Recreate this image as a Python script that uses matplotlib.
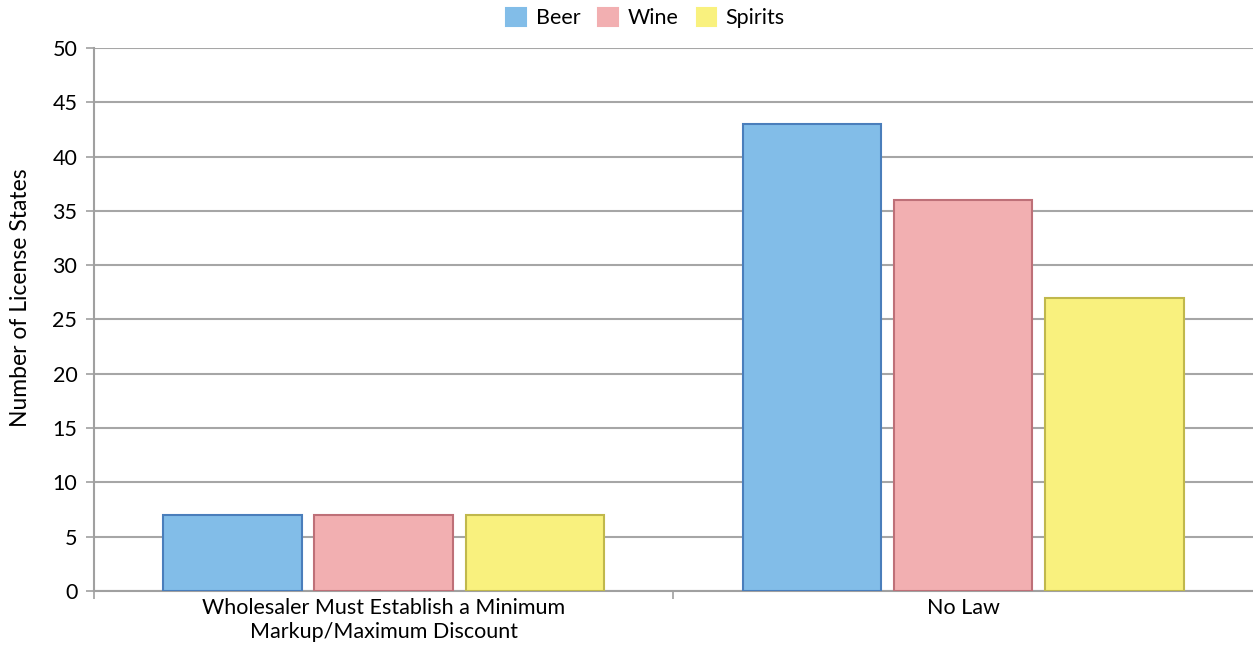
import matplotlib.pyplot as plt
import numpy as np

categories = ["Wholesaler Must Establish a Minimum\nMarkup/Maximum Discount", "No Law"]
series = ["Beer", "Wine", "Spirits"]
beer = [7, 43]
wine = [7, 36]
spirits = [7, 27]

fills = ["#82bde8", "#f2afb1", "#f9f17e"]
edges = ["#4a7ebb", "#be7078", "#c0b84c"]

plt.rcParams['font.family'] = ['Lato', 'DejaVu Sans']

fig = plt.figure(figsize=(12.53, 6.47), dpi=100)
ax = fig.add_axes([0.075, 0.0866, 0.925, 0.8392])

x = np.arange(len(categories))
width = 0.239
step = 0.261
for i, (vals, name) in enumerate(zip([beer, wine, spirits], series)):
    ax.bar(x + (i - 1) * step, vals, width, color=fills[i], edgecolor=edges[i],
           linewidth=1.5, label=name, zorder=3)

ax.set_ylim(0, 50)
ax.set_yticks(range(0, 51, 5))
ax.set_xticks([-0.5, 0.5])
ax.set_xticklabels([])
ax.set_xticks(x, minor=True)
ax.set_xticklabels(categories, minor=True, fontsize=15.5, linespacing=1.25)
ax.set_xlim(-0.5, 1.5)
ax.tick_params(axis='x', which='minor', length=0, pad=5)
ax.tick_params(axis='x', which='major', length=6, color='#a0a0a0', width=1.2)
ax.tick_params(axis='y', length=6, color='#a0a0a0', width=1.2, labelsize=15.5, pad=6)
ax.yaxis.grid(True, color='#a6a6a6', linewidth=1.5, zorder=0)
ax.set_axisbelow(True)
for s in ['top', 'right']:
    ax.spines[s].set_visible(False)
for s in ['left', 'bottom']:
    ax.spines[s].set_color('#a0a0a0')
    ax.spines[s].set_linewidth(1.5)
ax.set_ylabel("Number of License States", fontsize=16.5)
ax.yaxis.set_label_coords(-0.054, 0.54)

leg = ax.legend(loc='center', bbox_to_anchor=(0.476, 1.055), ncol=3, frameon=False,
                fontsize=15.5, handlelength=0.9, handleheight=0.9, handletextpad=0.45,
                columnspacing=0.85, borderaxespad=0)
for h, c in zip(leg.legend_handles, fills):
    h.set_edgecolor(c)

fig.savefig("out.png", dpi=100)
